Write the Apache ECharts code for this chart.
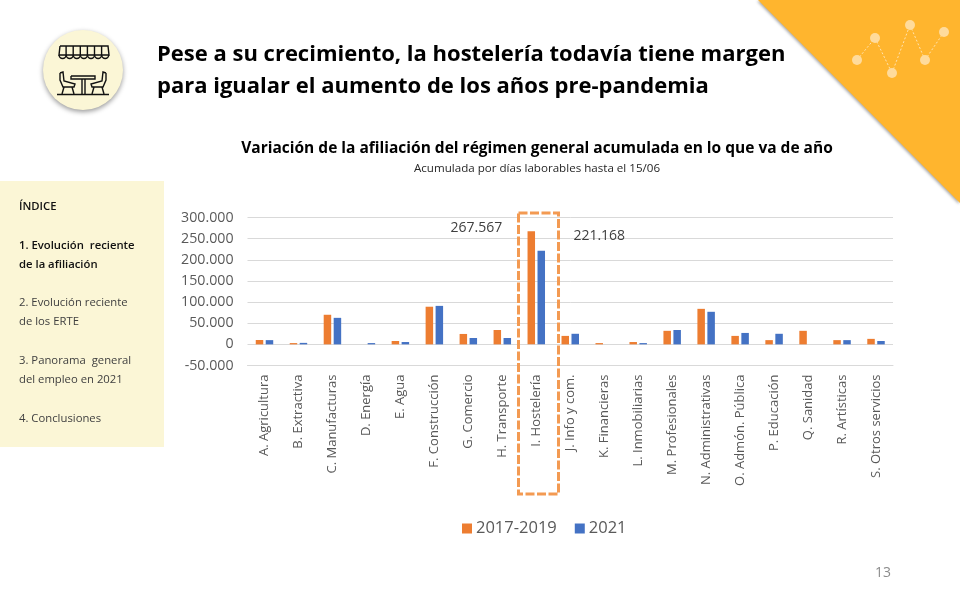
<!DOCTYPE html>
<html>
<head>
<meta charset="utf-8">
<title>Afiliación</title>
<script src="https://cdn.jsdelivr.net/npm/echarts@6/dist/echarts.min.js"></script>
<style>
html, body { margin: 0; padding: 0; background: #fff; }
#main { width: 960px; height: 600px; }
</style>
</head>
<body>
<div id="main"></div>
<script>
var categories = ['A. Agricultura', 'B. Extractiva', 'C. Manufacturas', 'D. Energía', 'E. Agua', 'F. Construcción', 'G. Comercio', 'H. Transporte', 'I. Hostelería', 'J. Info y com.', 'K. Financieras', 'L. Inmobiliarias', 'M. Profesionales', 'N. Administrativas', 'O. Admón. Pública', 'P. Educación', 'Q. Sanidad', 'R. Artísticas', 'S. Otros servicios'];
var serie2019 = [10300, 3000, 70000, 0, 8000, 89000, 24600, 34000, 267567, 20000, 3000, 5500, 32000, 84000, 20000, 10000, 32000, 10000, 13000];
var serie2021 = [10000, 3500, 62700, 3000, 5500, 91000, 15000, 15000, 221168, 25000, 0, 3000, 34000, 77000, 27000, 25000, 0, 10000, 8000];
var seriesNames = ['2017-2019', '2021'];
var highlightIndex = 8;

var titleLines = ['Pese a su crecimiento, la hostelería todavía tiene margen', 'para igualar el aumento de los años pre-pandemia'];
var chartTitle = 'Variación de la afiliación del régimen general acumulada en lo que va de año';
var chartSubtitle = 'Acumulada por días laborables hasta el 15/06';
var indexItems = [
    { text: 'ÍNDICE', y: 207, bold: true },
    { text: '1. Evolución  reciente', y: 246, bold: true },
    { text: 'de la afiliación', y: 265, bold: true },
    { text: '2. Evolución reciente', y: 303 },
    { text: 'de los ERTE', y: 322 },
    { text: '3. Panorama  general', y: 361 },
    { text: 'del empleo en 2021', y: 380 },
    { text: '4. Conclusiones', y: 419 }
];
var decoDots = [[857, 60], [875, 38], [892, 73], [910, 25], [925, 60], [944, 32]];

var font = '"Open Sans", "Noto Sans", sans-serif';
var myChart = echarts.init(document.getElementById('main'), null, { renderer: 'canvas' });

function miles(v) {
    var s = String(Math.abs(v)).replace(/\B(?=(\d{3})+$)/g, '.');
    return (v < 0 ? '-' : '') + s;
}

// etiqueta solo en la barra de hosteleria
function withLabel(values, offset) {
    return values.map(function (v, i) {
        if (i !== highlightIndex) return v;
        return {
            value: v,
            label: { show: true, position: 'top', offset: offset, formatter: miles(v), color: '#404040', fontSize: 14, fontFamily: font }
        };
    });
}

var graphics = [];

// triangulo amarillo
graphics.push({
    type: 'polygon', silent: true,
    shape: { points: [[758, 0], [960, 0], [960, 203]] },
    style: { fill: '#FFB52E', shadowBlur: 3, shadowColor: 'rgba(0,0,0,0.35)', shadowOffsetX: -1, shadowOffsetY: 1 }
});
for (var d = 0; d < decoDots.length; d++) {
    if (d < decoDots.length - 1) {
        graphics.push({
            type: 'line', silent: true,
            shape: { x1: decoDots[d][0], y1: decoDots[d][1], x2: decoDots[d + 1][0], y2: decoDots[d + 1][1] },
            style: { stroke: '#FFE3B0', lineWidth: 1, lineDash: [2, 2] }
        });
    }
}
decoDots.forEach(function (p) {
    graphics.push({ type: 'circle', silent: true, shape: { cx: p[0], cy: p[1], r: 5 }, style: { fill: '#FFDB9C' } });
});

// icono
graphics.push({
    type: 'circle', silent: true, shape: { cx: 83, cy: 70, r: 40 },
    style: { fill: '#FBF6D6', shadowBlur: 5, shadowColor: 'rgba(0,0,0,0.4)', shadowOffsetY: 2 }
});
var iconStroke = { stroke: '#111', lineWidth: 1.4, fill: null };
graphics.push({ type: 'polyline', silent: true, shape: { points: [[60, 46], [108, 46], [109, 55], [59, 55], [60, 46]] }, style: iconStroke });
for (var k = 0; k < 7; k++) {
    graphics.push({ type: 'arc', silent: true, shape: { cx: 62.6 + k * 7.1, cy: 55, r: 3.5, startAngle: 0, endAngle: Math.PI }, style: iconStroke });
    if (k > 0) graphics.push({ type: 'line', silent: true, shape: { x1: 59 + k * 7.1, y1: 46, x2: 59 + k * 7.1, y2: 55 }, style: iconStroke });
}
[
    [[57, 94.5], [109, 94.5]],
    [[71, 76], [95, 76], [95, 79], [71, 79], [71, 76]],
    [[82, 79], [82, 94]], [[85, 79], [85, 94]],
    [[60, 73], [63, 72], [64, 81], [75, 84], [74, 87], [63, 87], [60, 80], [60, 73]],
    [[64, 87], [62, 94]], [[72, 87], [74, 94]],
    [[106, 73], [103, 72], [102, 81], [91, 84], [92, 87], [103, 87], [106, 80], [106, 73]],
    [[102, 87], [104, 94]], [[94, 87], [92, 94]]
].forEach(function (pts) {
    graphics.push({ type: 'polyline', silent: true, shape: { points: pts }, style: iconStroke });
});

// panel indice
graphics.push({ type: 'rect', silent: true, shape: { x: 0, y: 181, width: 164, height: 266 }, style: { fill: '#FBF6D6' } });
indexItems.forEach(function (it) {
    graphics.push({
        type: 'text', silent: true, x: 19, y: it.y,
        style: { text: it.text, fill: it.bold ? '#111' : '#404040', font: (it.bold ? '600 ' : '') + '11.3px ' + font, verticalAlign: 'middle' }
    });
});

// recuadro hosteleria
graphics.push({
    type: 'rect', silent: true, z: 10,
    shape: { x: 518.5, y: 213, width: 40, height: 281 },
    style: { fill: null, stroke: '#F39A52', lineWidth: 3, lineDash: [9, 2.5] }
});

// titulo de la diapositiva y numero de pagina
titleLines.forEach(function (line, i) {
    graphics.push({
        type: 'text', silent: true, x: 157, y: 55 + i * 32,
        style: { text: line, fill: '#000', font: '700 22px ' + font, verticalAlign: 'middle' }
    });
});
graphics.push({ type: 'text', silent: true, x: 875, y: 573, style: { text: '13', fill: '#8C8C8C', font: '14px ' + font, verticalAlign: 'middle' } });

var option = {
    animation: false,
    backgroundColor: '#fff',
    title: {
        text: chartTitle, subtext: chartSubtitle,
        left: 532, top: 136, textAlign: 'center', itemGap: 6,
        textStyle: { color: '#000', fontSize: 15.5, fontWeight: 'bold', fontFamily: font },
        subtextStyle: { color: '#262626', fontSize: 11.6, fontFamily: font }
    },
    grid: { left: 247.5, right: 67, top: 217.5, height: 148 },
    legend: {
        data: seriesNames, left: 457, top: 515, icon: 'rect',
        itemWidth: 10, itemHeight: 10, itemGap: 18,
        textStyle: { color: '#595959', fontSize: 16.5, fontFamily: font, padding: [0, 0, 0, -1] }
    },
    xAxis: {
        type: 'category', data: categories,
        axisLine: { onZero: false, lineStyle: { color: '#D9D9D9' } },
        axisTick: { show: false },
        axisLabel: { interval: 0, rotate: 90, margin: 9, color: '#595959', fontSize: 13, fontFamily: font }
    },
    yAxis: {
        type: 'value', min: -50000, max: 300000, interval: 50000,
        axisLine: { show: false }, axisTick: { show: false },
        axisLabel: { margin: 14, color: '#595959', fontSize: 14.2, fontFamily: font, formatter: miles },
        splitLine: { lineStyle: { color: '#D9D9D9', width: 1 } }
    },
    series: [
        { name: seriesNames[0], type: 'bar', barWidth: 7.5, barGap: '33%', itemStyle: { color: '#ED7D31' }, data: withLabel(serie2019, [-55, 9]) },
        { name: seriesNames[1], type: 'bar', barWidth: 7.5, itemStyle: { color: '#4472C4' }, data: withLabel(serie2021, [58, -3]) }
    ],
    graphic: graphics
};
myChart.setOption(option);
</script>
</body>
</html>
